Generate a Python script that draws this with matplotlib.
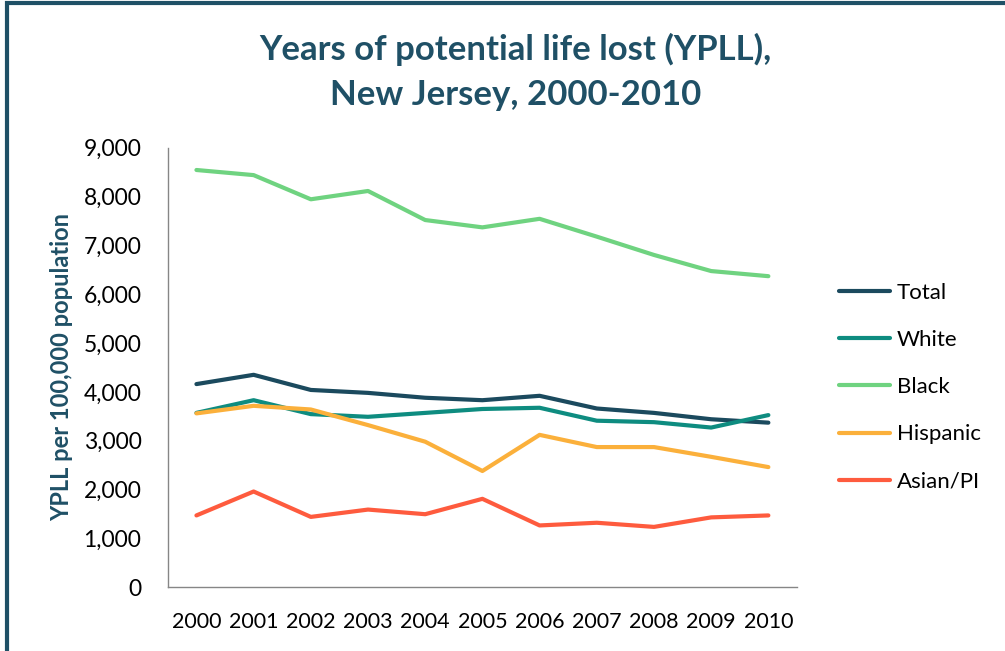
import matplotlib.pyplot as plt
from matplotlib.patches import Rectangle
from matplotlib.ticker import FuncFormatter

years = ["2000", "2001", "2002", "2003", "2004", "2005", "2006", "2007", "2008", "2009", "2010"]

total = [4160, 4350, 4040, 3980, 3880, 3830, 3920, 3660, 3570, 3440, 3370]
white = [3570, 3830, 3545, 3490, 3570, 3650, 3675, 3410, 3380, 3270, 3525]
black = [8545, 8440, 7945, 8115, 7520, 7370, 7545, 7180, 6805, 6475, 6370]
hispanic = [3560, 3715, 3640, 3320, 2980, 2380, 3120, 2870, 2870, 2670, 2460]
asian_pi = [1470, 1960, 1440, 1590, 1495, 1810, 1265, 1320, 1235, 1430, 1470]

series = ["Total", "White", "Black", "Hispanic", "Asian/PI"]
colors = ["#1b4a5e", "#0e8c80", "#6fd380", "#fbb03b", "#fe5b3e"]

plt.rcParams['font.family'] = ['Lato', 'DejaVu Sans']

fig = plt.figure(figsize=(10.05, 6.51), dpi=100)
ax = fig.add_axes([0.167, 0.098, 0.626, 0.675])

x = range(len(years))
for name, vals, c in zip(series, [total, white, black, hispanic, asian_pi], colors):
    ax.plot(x, vals, color=c, linewidth=3, label=name, solid_capstyle='round')

ax.set_xlim(-0.5, 10.5)
ax.set_ylim(0, 9000)
ax.set_yticks(range(0, 9001, 1000))
ax.yaxis.set_major_formatter(FuncFormatter(lambda v, p: f"{int(v):,}"))
ax.set_xticks(list(x))
ax.set_xticklabels(years)
ax.tick_params(length=0, colors='black')
ax.tick_params(axis='x', pad=18, labelsize=15.5)
ax.tick_params(axis='y', pad=19, labelsize=16.5)

for s in ['top', 'right']:
    ax.spines[s].set_visible(False)
for s in ['left', 'bottom']:
    ax.spines[s].set_color('#868686')
    ax.spines[s].set_linewidth(1)

ax.set_ylabel("YPLL per 100,000 population", fontsize=17, fontweight='bold',
              color='#1f5066')
ax.yaxis.set_label_coords(-0.15, 0.5)

fig.text(0.513, 0.89, "Years of potential life lost (YPLL),\nNew Jersey, 2000-2010",
         ha='center', va='center', fontsize=25, fontweight='bold', color='#1f5066',
         linespacing=1.5)

leg = ax.legend(loc='center left', bbox_to_anchor=(1.035, 0.455), frameon=False,
                fontsize=16, handlelength=2.3, handletextpad=0.3, labelspacing=1.22)

# border around the chart area
fig.patches.append(Rectangle((0.007, -0.05), 1.2, 1.045, transform=fig.transFigure,
                             fill=False, edgecolor='#1f5066', linewidth=3))

fig.savefig("out.png", dpi=100)
